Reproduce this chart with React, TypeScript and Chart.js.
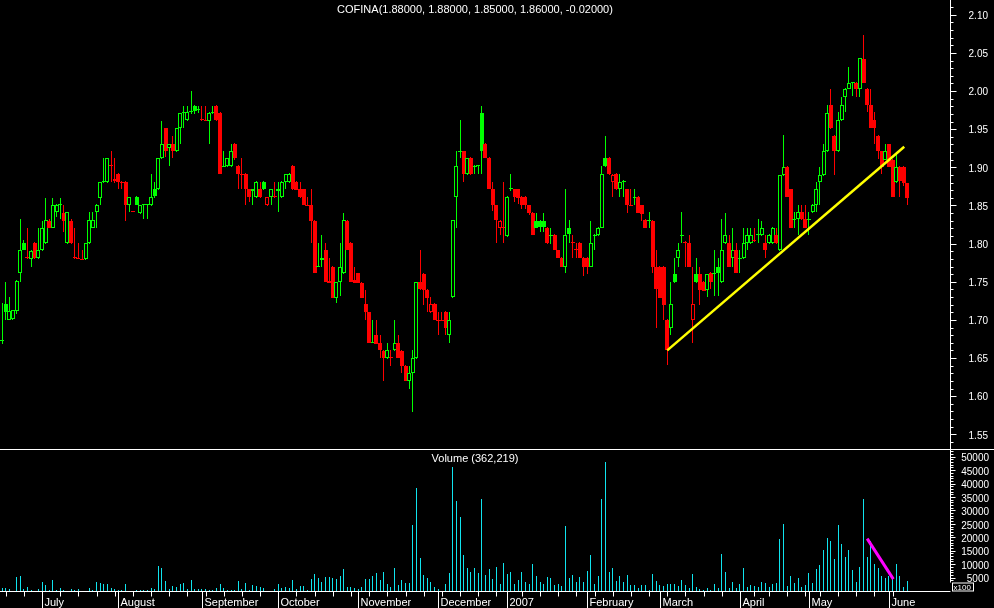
import React, { useEffect, useRef } from 'react';
import { Chart, registerables } from 'chart.js';

Chart.register(...registerables);

// ---------- DATA ----------
const symbol = 'COFINA';
const firstSession = '2006-06-15';
const holidays = ['2006-12-25', '2006-12-26', '2007-01-01', '2007-04-06', '2007-04-09', '2007-05-01'];
const monthNames = ['January', 'February', 'March', 'April', 'May', 'June', 'July', 'August', 'September', 'October', 'November', 'December'];

const opens = [
  1.670, 1.672, 1.721, 1.700, 1.701, 1.712, 1.762, 1.801, 1.782, 1.780, 1.801, 1.781, 1.791, 1.801, 1.830, 1.821, 1.842, 1.851, 1.840, 1.801,
  1.830, 1.781, 1.781, 1.780, 1.780, 1.801, 1.821, 1.842, 1.860, 1.881, 1.881, 1.902, 1.885, 1.891, 1.881, 1.881, 1.850, 1.842, 1.861, 1.840,
  1.850, 1.850, 1.850, 1.871, 1.871, 1.912, 1.951, 1.925, 1.931, 1.921, 1.951, 1.971, 1.962, 1.972, 1.981, 1.975, 1.963, 1.962, 1.961, 1.971,
  1.981, 1.971, 1.900, 1.902, 1.902, 1.931, 1.902, 1.891, 1.891, 1.871, 1.869, 1.861, 1.871, 1.881, 1.850, 1.861, 1.862, 1.869, 1.861, 1.881,
  1.881, 1.902, 1.881, 1.871, 1.871, 1.851, 1.850, 1.830, 1.770, 1.779, 1.791, 1.751, 1.770, 1.729, 1.750, 1.761, 1.830, 1.801, 1.752, 1.761,
  1.748, 1.721, 1.710, 1.671, 1.680, 1.670, 1.659, 1.650, 1.651, 1.660, 1.670, 1.659, 1.640, 1.620, 1.630, 1.650, 1.750, 1.760, 1.739, 1.710,
  1.721, 1.700, 1.700, 1.711, 1.680, 1.730, 1.861, 1.920, 1.921, 1.891, 1.912, 1.901, 1.902, 1.971, 1.931, 1.912, 1.871, 1.850, 1.821, 1.822,
  1.810, 1.871, 1.871, 1.871, 1.861, 1.861, 1.850, 1.840, 1.830, 1.830, 1.830, 1.821, 1.810, 1.811, 1.791, 1.781, 1.770, 1.821, 1.802, 1.792,
  1.801, 1.781, 1.781, 1.770, 1.810, 1.811, 1.821, 1.912, 1.912, 1.881, 1.891, 1.871, 1.881, 1.871, 1.851, 1.860, 1.861, 1.850, 1.831, 1.829,
  1.830, 1.770, 1.770, 1.770, 1.700, 1.690, 1.760, 1.781, 1.810, 1.802, 1.801, 1.700, 1.760, 1.760, 1.750, 1.739, 1.762, 1.760, 1.770, 1.750,
  1.801, 1.801, 1.781, 1.791, 1.780, 1.781, 1.801, 1.801, 1.804, 1.811, 1.811, 1.801, 1.801, 1.801, 1.811, 1.791, 1.890, 1.901, 1.871, 1.831,
  1.832, 1.841, 1.832, 1.831, 1.841, 1.851, 1.881, 1.890, 1.921, 1.982, 1.941, 1.921, 1.962, 1.992, 2.003, 2.010, 2.011, 2.003, 2.042, 2.003,
  1.982, 1.962, 1.941, 1.921, 1.910, 1.930, 1.910, 1.881, 1.901, 1.901, 1.880,
];
const highs = [
  1.672, 1.722, 1.750, 1.730, 1.713, 1.752, 1.832, 1.805, 1.821, 1.791, 1.802, 1.821, 1.830, 1.860, 1.832, 1.860, 1.852, 1.860, 1.850, 1.842,
  1.832, 1.821, 1.801, 1.791, 1.801, 1.842, 1.842, 1.852, 1.881, 1.912, 1.912, 1.921, 1.912, 1.892, 1.882, 1.882, 1.861, 1.843, 1.862, 1.850,
  1.851, 1.851, 1.891, 1.881, 1.912, 1.961, 1.952, 1.931, 1.941, 1.951, 1.971, 1.981, 1.981, 2.000, 1.982, 1.981, 1.981, 1.981, 1.972, 1.981,
  1.982, 1.972, 1.922, 1.912, 1.931, 1.932, 1.903, 1.912, 1.892, 1.872, 1.872, 1.882, 1.881, 1.882, 1.861, 1.871, 1.881, 1.881, 1.882, 1.891,
  1.892, 1.903, 1.882, 1.881, 1.872, 1.861, 1.871, 1.831, 1.801, 1.811, 1.801, 1.781, 1.771, 1.750, 1.801, 1.840, 1.831, 1.802, 1.770, 1.762,
  1.750, 1.739, 1.711, 1.700, 1.700, 1.680, 1.660, 1.670, 1.660, 1.700, 1.680, 1.660, 1.641, 1.640, 1.660, 1.750, 1.791, 1.761, 1.740, 1.730,
  1.722, 1.711, 1.711, 1.712, 1.711, 1.831, 1.922, 1.962, 1.922, 1.912, 1.913, 1.903, 1.903, 1.981, 1.932, 1.913, 1.881, 1.851, 1.831, 1.881,
  1.862, 1.891, 1.872, 1.872, 1.862, 1.862, 1.851, 1.841, 1.840, 1.831, 1.840, 1.822, 1.821, 1.812, 1.792, 1.782, 1.871, 1.831, 1.811, 1.801,
  1.802, 1.782, 1.782, 1.830, 1.812, 1.822, 1.902, 1.941, 1.913, 1.891, 1.892, 1.891, 1.883, 1.872, 1.872, 1.871, 1.862, 1.851, 1.832, 1.841,
  1.831, 1.791, 1.771, 1.771, 1.701, 1.750, 1.781, 1.801, 1.841, 1.803, 1.811, 1.770, 1.781, 1.770, 1.751, 1.760, 1.763, 1.791, 1.781, 1.832,
  1.840, 1.811, 1.821, 1.801, 1.791, 1.821, 1.821, 1.821, 1.821, 1.832, 1.830, 1.811, 1.812, 1.822, 1.821, 1.890, 1.942, 1.902, 1.872, 1.841,
  1.851, 1.851, 1.850, 1.841, 1.852, 1.881, 1.901, 1.931, 1.982, 2.003, 1.942, 1.972, 1.992, 2.004, 2.032, 2.012, 2.012, 2.043, 2.073, 2.004,
  2.003, 1.972, 1.942, 1.922, 1.931, 1.931, 1.911, 1.920, 1.902, 1.902, 1.880,
];
const lows = [
  1.655, 1.668, 1.700, 1.700, 1.700, 1.708, 1.750, 1.791, 1.780, 1.770, 1.780, 1.780, 1.790, 1.800, 1.820, 1.820, 1.835, 1.832, 1.815, 1.800,
  1.800, 1.780, 1.780, 1.779, 1.779, 1.800, 1.820, 1.820, 1.850, 1.880, 1.880, 1.881, 1.880, 1.871, 1.871, 1.830, 1.842, 1.841, 1.850, 1.839,
  1.832, 1.832, 1.849, 1.860, 1.870, 1.911, 1.913, 1.902, 1.912, 1.920, 1.931, 1.952, 1.961, 1.970, 1.970, 1.971, 1.961, 1.961, 1.931, 1.970,
  1.961, 1.891, 1.900, 1.901, 1.901, 1.910, 1.871, 1.872, 1.850, 1.855, 1.851, 1.860, 1.860, 1.870, 1.849, 1.851, 1.860, 1.842, 1.860, 1.871,
  1.880, 1.870, 1.870, 1.860, 1.850, 1.849, 1.801, 1.761, 1.770, 1.770, 1.750, 1.749, 1.729, 1.722, 1.731, 1.760, 1.791, 1.750, 1.748, 1.748,
  1.729, 1.700, 1.670, 1.670, 1.668, 1.650, 1.620, 1.649, 1.640, 1.659, 1.650, 1.630, 1.620, 1.610, 1.579, 1.649, 1.739, 1.720, 1.711, 1.709,
  1.700, 1.680, 1.698, 1.680, 1.670, 1.729, 1.821, 1.912, 1.881, 1.890, 1.890, 1.891, 1.891, 1.891, 1.912, 1.871, 1.843, 1.801, 1.811, 1.801,
  1.809, 1.869, 1.855, 1.852, 1.845, 1.845, 1.838, 1.811, 1.820, 1.815, 1.815, 1.800, 1.800, 1.791, 1.781, 1.770, 1.761, 1.801, 1.781, 1.781,
  1.781, 1.758, 1.760, 1.769, 1.791, 1.810, 1.820, 1.900, 1.890, 1.861, 1.870, 1.861, 1.861, 1.840, 1.849, 1.850, 1.840, 1.830, 1.820, 1.821,
  1.761, 1.690, 1.729, 1.700, 1.641, 1.680, 1.749, 1.770, 1.801, 1.770, 1.769, 1.670, 1.749, 1.720, 1.738, 1.730, 1.740, 1.731, 1.731, 1.749,
  1.800, 1.770, 1.770, 1.762, 1.762, 1.780, 1.791, 1.800, 1.802, 1.801, 1.810, 1.781, 1.800, 1.800, 1.800, 1.790, 1.889, 1.861, 1.821, 1.821,
  1.811, 1.831, 1.820, 1.811, 1.840, 1.841, 1.851, 1.889, 1.920, 1.950, 1.890, 1.920, 1.961, 1.972, 2.002, 1.994, 1.992, 1.992, 2.010, 1.972,
  1.951, 1.930, 1.911, 1.891, 1.909, 1.900, 1.861, 1.880, 1.861, 1.875, 1.850,
];
const closes = [
  1.660, 1.674, 1.711, 1.712, 1.713, 1.751, 1.791, 1.792, 1.781, 1.790, 1.781, 1.791, 1.821, 1.831, 1.821, 1.850, 1.850, 1.851, 1.830, 1.842,
  1.801, 1.781, 1.780, 1.779, 1.801, 1.831, 1.831, 1.850, 1.881, 1.882, 1.912, 1.902, 1.882, 1.881, 1.880, 1.850, 1.861, 1.842, 1.850, 1.850,
  1.850, 1.850, 1.861, 1.862, 1.912, 1.931, 1.921, 1.930, 1.921, 1.951, 1.971, 1.972, 1.972, 1.973, 1.974, 1.975, 1.962, 1.961, 1.971, 1.972,
  1.962, 1.891, 1.902, 1.912, 1.921, 1.912, 1.891, 1.890, 1.871, 1.861, 1.871, 1.881, 1.861, 1.871, 1.861, 1.871, 1.861, 1.871, 1.881, 1.891,
  1.891, 1.871, 1.870, 1.861, 1.850, 1.849, 1.830, 1.761, 1.771, 1.781, 1.750, 1.749, 1.729, 1.750, 1.770, 1.831, 1.791, 1.750, 1.749, 1.748,
  1.729, 1.710, 1.670, 1.670, 1.669, 1.660, 1.650, 1.660, 1.650, 1.670, 1.650, 1.640, 1.620, 1.630, 1.650, 1.750, 1.740, 1.739, 1.729, 1.721,
  1.700, 1.699, 1.698, 1.690, 1.700, 1.831, 1.902, 1.921, 1.891, 1.912, 1.891, 1.902, 1.902, 1.921, 1.912, 1.871, 1.850, 1.831, 1.830, 1.821,
  1.861, 1.872, 1.861, 1.860, 1.851, 1.850, 1.840, 1.811, 1.821, 1.822, 1.822, 1.801, 1.811, 1.791, 1.781, 1.770, 1.811, 1.812, 1.801, 1.791,
  1.781, 1.770, 1.769, 1.801, 1.811, 1.821, 1.891, 1.902, 1.891, 1.890, 1.871, 1.881, 1.882, 1.850, 1.849, 1.861, 1.840, 1.839, 1.821, 1.830,
  1.770, 1.740, 1.729, 1.720, 1.660, 1.721, 1.750, 1.791, 1.811, 1.801, 1.770, 1.721, 1.750, 1.739, 1.738, 1.760, 1.750, 1.762, 1.762, 1.791,
  1.811, 1.770, 1.791, 1.762, 1.781, 1.801, 1.811, 1.811, 1.803, 1.812, 1.821, 1.791, 1.811, 1.821, 1.801, 1.890, 1.901, 1.861, 1.821, 1.832,
  1.841, 1.832, 1.821, 1.832, 1.851, 1.871, 1.890, 1.921, 1.971, 1.952, 1.921, 1.962, 1.982, 2.003, 2.011, 2.011, 2.003, 2.043, 2.011, 1.982,
  1.952, 1.951, 1.921, 1.901, 1.921, 1.901, 1.861, 1.901, 1.882, 1.880, 1.860,
];
// volume, in hundreds of shares (axis is "x100")
const volumes = [
  0, 1100, 1100, 750, 0, 5200, 5600, 750, 1500, 400, 0, 600, 3400, 2200, 400, 4100, 400, 1100, 400, 0,
  750, 400, 750, 0, 0, 1100, 400, 3400, 3000, 2600, 2600, 1100, 750, 400, 400, 2600, 0, 0, 400, 400,
  400, 400, 1100, 750, 9300, 8600, 3700, 750, 1900, 1500, 2600, 3000, 750, 4100, 750, 750, 750, 750, 400, 400,
  1100, 2600, 1100, 400, 400, 400, 3700, 750, 3000, 400, 2200, 1900, 1500, 1100, 0, 0, 750, 2600, 1100, 1500,
  1100, 4100, 750, 1900, 1900, 400, 4500, 6300, 4900, 3400, 5200, 5200, 4900, 4500, 5600, 8200, 1500, 1500, 1100, 750,
  1500, 4500, 4500, 5600, 6700, 4100, 7100, 2600, 1500, 8600, 2200, 4100, 3000, 3000, 24600, 38400, 12300, 6000, 4900, 3400,
  1500, 750, 0, 2600, 6700, 46300, 33600, 27600, 13400, 8600, 7100, 8600, 6700, 34300, 6000, 8200, 4500, 9000, 2600, 10400,
  6300, 7100, 2600, 4100, 7100, 3400, 2600, 10100, 5600, 3400, 2600, 5200, 4900, 2200, 2600, 1900, 24300, 4900, 6000, 3400,
  5200, 3400, 7500, 13400, 2600, 5600, 34300, 48100, 7100, 8600, 3700, 5600, 3400, 6000, 2200, 2200, 1100, 2200, 2200, 400,
  6300, 3700, 2200, 1900, 2600, 2600, 2600, 1900, 4100, 2200, 1100, 6300, 1500, 750, 400, 1100, 400, 2600, 1100, 13800,
  7100, 1100, 3400, 1100, 2600, 8600, 1500, 2200, 1900, 1500, 3400, 3000, 1500, 2600, 3000, 19400, 25000, 1900, 5600, 3000,
  4900, 1500, 2200, 6700, 3000, 8200, 9700, 15300, 19800, 18700, 11900, 24600, 17500, 12700, 15300, 7800, 3400, 9000, 34300, 12700,
  18500, 10100, 8600, 5600, 4900, 5500, 4400, 10100, 5600, 1500, 3622.19,
];

const priceTicks = [1.55, 1.6, 1.65, 1.7, 1.75, 1.8, 1.85, 1.9, 1.95, 2.0, 2.05, 2.1];
const volumeTicks = [5000, 10000, 15000, 20000, 25000, 30000, 35000, 40000, 45000, 50000];

// drawn trend lines: [session index, value]
const priceTrendLine = [{ x: 184, y: 1.66 }, { x: 249.2, y: 1.927 }];
const volumeTrendLine = [{ x: 239, y: 19500 }, { x: 246.2, y: 4400 }];

// ---------- helpers ----------
const GREEN = '#00ff00';
const RED = '#ff0000';
const CYAN = '#10e4ee';
const FONT = '"Liberation Sans", Arial, sans-serif';

function buildSessions(count: number) {
  const out: Date[] = [];
  const d = new Date(firstSession + 'T00:00:00Z');
  while (out.length < count) {
    const dow = d.getUTCDay();
    const iso = d.toISOString().slice(0, 10);
    if (dow !== 0 && dow !== 6 && !holidays.includes(iso)) out.push(new Date(d.getTime()));
    d.setUTCDate(d.getUTCDate() + 1);
  }
  return out;
}
const sessions = buildSessions(opens.length);

const X_MIN = 0.44;
const X_MAX = 261.79;
const P_MIN = 1.5308;
const P_MAX = 2.1193;
const V_MAX = 52500;

function candleColor(i: number) {
  if (i === 0) return closes[0] >= opens[0] ? GREEN : RED;
  return closes[i] >= closes[i - 1] ? GREEN : RED;
}

// snap bar elements computed by the scales onto whole device pixels (crisp 1px lines)
const snapPlugin = {
  id: 'pixelSnap',
  beforeDatasetsDraw(chart: any) {
    chart.data.datasets.forEach((_: any, di: number) => {
      const meta = chart.getDatasetMeta(di);
      if (meta.type !== 'bar') return;
      meta.data.forEach((el: any) => {
        const w = Math.round(el.width);
        el.x = w % 2 === 1 ? Math.floor(el.x) + 0.5 : Math.round(el.x);
        let top = Math.round(Math.min(el.y, el.base));
        let bot = Math.round(Math.max(el.y, el.base));
        if (bot - top < 1) bot = top + 1;
        el.y = top;
        el.base = bot;
      });
    });
  },
};

const pricePlugin = {
  id: 'priceDecor',
  afterDraw(chart: any) {
    const { ctx, chartArea, scales } = chart;
    const ys = scales.y;
    const axisX = Math.round(chartArea.right) + 0.5;
    ctx.save();
    ctx.strokeStyle = '#ffffff';
    ctx.lineWidth = 1;
    ctx.beginPath();
    ctx.moveTo(axisX, 0);
    ctx.lineTo(axisX, chart.height);
    ctx.stroke();
    const lo = Math.ceil(ys.min * 100);
    const hi = Math.floor(ys.max * 100);
    for (let k = lo; k <= hi; k++) {
      const y = Math.round(ys.getPixelForValue(k / 100)) + 0.5;
      const len = k % 5 === 0 ? 6 : 3;
      ctx.beginPath();
      ctx.moveTo(axisX, y);
      ctx.lineTo(axisX + len, y);
      ctx.stroke();
    }
    ctx.fillStyle = '#ffffff';
    ctx.font = '10px ' + FONT;
    ctx.textAlign = 'right';
    ctx.textBaseline = 'middle';
    priceTicks.forEach((v) => ctx.fillText(v.toFixed(2), 988, ys.getPixelForValue(v) + 1.5));
    const n = closes.length - 1;
    const title = `${symbol}(${opens[n].toFixed(5)}, ${highs[n].toFixed(5)}, ${lows[n].toFixed(5)}, ${closes[n].toFixed(5)}, ${(closes[n] - closes[n - 1]).toFixed(5)})`;
    ctx.font = '11px ' + FONT;
    ctx.textAlign = 'center';
    ctx.fillText(title, (chartArea.left + chartArea.right) / 2, 10);
    ctx.restore();
  },
};

const volumePlugin = {
  id: 'volumeDecor',
  afterDraw(chart: any) {
    const { ctx, chartArea, scales } = chart;
    const ys = scales.y;
    const xs = scales.x;
    const axisX = Math.round(chartArea.right) + 0.5;
    const baseY = Math.round(chartArea.bottom) + 0.5;
    const boxTop = baseY - 9;
    ctx.save();
    ctx.strokeStyle = '#ffffff';
    ctx.fillStyle = '#ffffff';
    ctx.lineWidth = 1;
    // separator between panels
    ctx.beginPath();
    ctx.moveTo(0, 0.5);
    ctx.lineTo(chart.width, 0.5);
    ctx.stroke();
    // value axis
    ctx.beginPath();
    ctx.moveTo(axisX, 0);
    ctx.lineTo(axisX, boxTop);
    ctx.stroke();
    for (let v = 1000; v <= ys.max; v += 1000) {
      const y = Math.round(ys.getPixelForValue(v)) + 0.5;
      if (y > boxTop - 1) continue;
      const len = v % 5000 === 0 ? 5 : 3;
      ctx.beginPath();
      ctx.moveTo(axisX, y);
      ctx.lineTo(axisX + len, y);
      ctx.stroke();
    }
    ctx.font = '10px ' + FONT;
    ctx.textAlign = 'right';
    ctx.textBaseline = 'middle';
    volumeTicks.forEach((v) => ctx.fillText(String(v), 989, ys.getPixelForValue(v) + 2));
    // x100 box
    ctx.strokeRect(axisX + 2, boxTop + 0.5, 21, 8);
    ctx.font = '8px ' + FONT;
    ctx.textAlign = 'left';
    ctx.fillText('x100', axisX + 3, boxTop + 5);
    // time axis
    ctx.beginPath();
    ctx.moveTo(0, baseY);
    ctx.lineTo(axisX, baseY);
    ctx.stroke();
    ctx.font = '11px ' + FONT;
    ctx.textBaseline = 'middle';
    const weekOf = (d: Date) => Math.floor((d.getTime() / 86400000 + 3) / 7);
    sessions.forEach((d, i) => {
      const x = Math.round(xs.getPixelForValue(i)) + 0.5;
      if (x < 0 || x > chartArea.right) return;
      const newMonth = i > 0 && d.getUTCMonth() !== sessions[i - 1].getUTCMonth();
      const newWeek = i > 0 && weekOf(d) !== weekOf(sessions[i - 1]);
      if (newMonth) {
        ctx.beginPath();
        ctx.moveTo(x, baseY);
        ctx.lineTo(x, chart.height);
        ctx.stroke();
        const m = d.getUTCMonth();
        const label = m === 0 ? String(d.getUTCFullYear()) : monthNames[m];
        ctx.fillText(label, x + 2, baseY + 11);
      } else if (newWeek) {
        ctx.beginPath();
        ctx.moveTo(x, baseY);
        ctx.lineTo(x, baseY + 5);
        ctx.stroke();
      }
    });
    // panel caption
    const lastVol = volumes[volumes.length - 1];
    ctx.font = '11px ' + FONT;
    ctx.textAlign = 'center';
    ctx.fillText(`Volume (${Math.round(lastVol * 100).toLocaleString('en-US')})`, (chartArea.left + chartArea.right) / 2, 10);
    ctx.restore();
  },
};

export default function App() {
  const priceRef = useRef<HTMLCanvasElement>(null);
  const volRef = useRef<HTMLCanvasElement>(null);

  useEffect(() => {
    document.body.style.margin = '0';
    document.body.style.background = '#000';
    const colors = opens.map((_, i) => candleColor(i));
    const filled = opens.map((o, i) => closes[i] < o);

    const priceChart = new Chart(priceRef.current as HTMLCanvasElement, {
      type: 'bar',
      data: {
        datasets: [
          {
            type: 'line',
            data: priceTrendLine,
            borderColor: '#ffff00',
            borderWidth: 2.5,
            pointRadius: 0,
            order: 0,
          } as any,
          {
            data: opens.map((o, i) => ({ x: i, y: [Math.min(o, closes[i]), Math.max(o, closes[i])] })),
            backgroundColor: opens.map((_, i) => (filled[i] ? colors[i] : '#000000')),
            borderColor: colors,
            borderWidth: 1,
            borderSkipped: false,
            barThickness: 4,
            minBarLength: 1,
            inflateAmount: 0,
            grouped: false,
            order: 1,
          } as any,
          {
            data: opens.map((_, i) => ({ x: i, y: [lows[i], highs[i]] })),
            backgroundColor: colors,
            borderWidth: 0,
            barThickness: 1,
            minBarLength: 1,
            inflateAmount: 0,
            grouped: false,
            order: 2,
          } as any,
        ],
      },
      options: {
        animation: false,
        responsive: false,
        events: [],
        layout: { padding: { left: 0, right: 44, top: 0, bottom: 0 } },
        plugins: { legend: { display: false }, tooltip: { enabled: false } },
        scales: {
          x: { type: 'linear', min: X_MIN, max: X_MAX, offset: false, display: false },
          y: { type: 'linear', min: P_MIN, max: P_MAX, display: false },
        },
      } as any,
      plugins: [snapPlugin, pricePlugin],
    });

    const volChart = new Chart(volRef.current as HTMLCanvasElement, {
      type: 'bar',
      data: {
        datasets: [
          {
            type: 'line',
            data: volumeTrendLine,
            borderColor: '#ff00ff',
            borderWidth: 3,
            pointRadius: 0,
            order: 0,
          } as any,
          {
            data: volumes.map((v, i) => ({ x: i, y: v })),
            backgroundColor: CYAN,
            borderWidth: 0,
            barThickness: 1,
            inflateAmount: 0,
            grouped: false,
            order: 1,
          } as any,
        ],
      },
      options: {
        animation: false,
        responsive: false,
        events: [],
        layout: { padding: { left: 0, right: 44, top: 1, bottom: 17 } },
        plugins: { legend: { display: false }, tooltip: { enabled: false } },
        scales: {
          x: { type: 'linear', min: X_MIN, max: X_MAX, offset: false, display: false },
          y: { type: 'linear', min: 0, max: V_MAX, display: false },
        },
      } as any,
      plugins: [snapPlugin, volumePlugin],
    });

    return () => {
      priceChart.destroy();
      volChart.destroy();
    };
  }, []);

  return (
    <div style={{ position: 'fixed', left: 0, top: 0, width: 994, height: 608, background: '#000', overflow: 'hidden' }}>
      <canvas ref={priceRef} width={994} height={449} style={{ position: 'absolute', left: 0, top: 0, width: 994, height: 449 }} />
      <canvas ref={volRef} width={994} height={159} style={{ position: 'absolute', left: 0, top: 449, width: 994, height: 159 }} />
    </div>
  );
}
